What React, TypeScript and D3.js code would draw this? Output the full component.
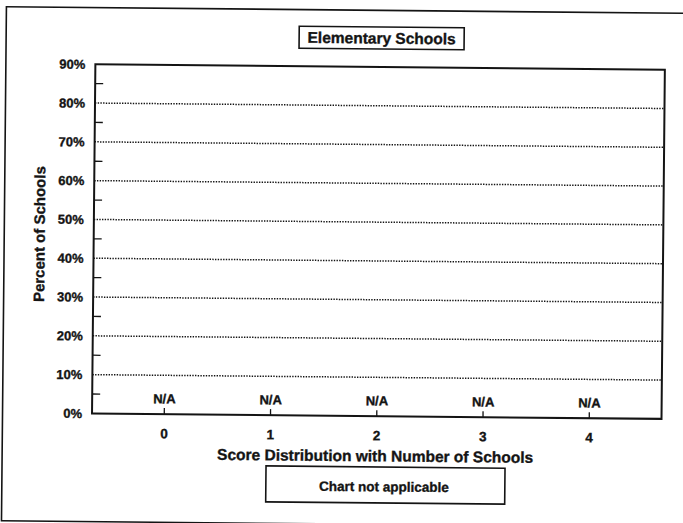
import React from 'react';
import * as d3 from 'd3';

const categories = ['0', '1', '2', '3', '4'];
const values: (number | null)[] = [null, null, null, null, null];
const yTicks = [0, 10, 20, 30, 40, 50, 60, 70, 80, 90];
const minorTicks = [5, 15, 25, 35, 45, 55, 65, 75, 85];
const gridLines = [10, 20, 30, 40, 50, 60, 70, 80];

const title = 'Elementary Schools';
const xTitle = 'Score Distribution with Number of Schools';
const yTitle = 'Percent of Schools';
const note = 'Chart not applicable';

const App: React.FC = () => {
  const width = 683;
  const height = 523;
  const plot = { left: 93.5, right: 663, top: 66.6, bottom: 415.8 };
  const font = '"Liberation Sans", Arial, Helvetica, sans-serif';
  const ink = '#141414';

  const x = d3.scalePoint<string>().domain(categories).range([plot.left, plot.right]).padding(0.68);
  const y = d3.scaleLinear().domain([0, 90]).range([plot.bottom, plot.top]);

  // scanned text looks heavier than plain bold
  const textStyle = { stroke: ink, strokeWidth: 0.35 };

  return (
    <svg
      width={width}
      height={height}
      viewBox={`0 0 ${width} ${height}`}
      style={{ position: 'absolute', left: 0, top: 0, background: '#fff' }}
    >
      <rect x={0} y={0} width={width} height={height} fill="#fff" />
      <g transform="rotate(0.55, 341, 261)" fontFamily={font} fontWeight="bold" fill={ink}>
        {/* page frame */}
        <rect x={4} y={10} width={700} height={514} fill="none" stroke={ink} strokeWidth={1.6} />

        {/* title box */}
        <rect x={297} y={26.6} width={165} height={22} fill="none" stroke={ink} strokeWidth={1.6} />
        <text x={379.5} y={43.2} textAnchor="middle" fontSize={15.5} style={textStyle}>{title}</text>

        {/* grid */}
        {gridLines.map(t => (
          <line key={`g-${t}`} x1={plot.left} x2={plot.right} y1={y(t)} y2={y(t)}
            stroke={ink} strokeWidth={1.5} strokeDasharray="1.4 1.3" />
        ))}

        {/* minor ticks */}
        {minorTicks.map(t => (
          <line key={`m-${t}`} x1={plot.left} x2={plot.left + 8} y1={y(t)} y2={y(t)} stroke={ink} strokeWidth={1.3} />
        ))}

        {/* plot border */}
        <rect x={plot.left} y={plot.top} width={plot.right - plot.left} height={plot.bottom - plot.top}
          fill="none" stroke={ink} strokeWidth={2} />

        {/* y labels */}
        {yTicks.map(t => (
          <text key={`y-${t}`} x={83.5} y={y(t) + 4.7} textAnchor="end" fontSize={13} style={textStyle}>{`${t}%`}</text>
        ))}

        {/* x ticks, labels and N/A markers */}
        {categories.map((c, i) => (
          <g key={`x-${c}`}>
            <line x1={x(c)!} x2={x(c)!} y1={plot.bottom} y2={plot.bottom - 6} stroke={ink} strokeWidth={1.3} />
            <text x={x(c)!} y={440} textAnchor="middle" fontSize={13.5} style={textStyle}>{c}</text>
            {values[i] === null && (
              <text x={x(c)!} y={405} textAnchor="middle" fontSize={13} style={textStyle}>N/A</text>
            )}
          </g>
        ))}

        {/* axis titles */}
        <text x={377} y={461} textAnchor="middle" fontSize={15.5} style={textStyle}>{xTitle}</text>
        <text transform="translate(44.5, 237) rotate(-90)" textAnchor="middle" fontSize={15} style={textStyle}>{yTitle}</text>

        {/* note box */}
        <rect x={268} y={466.6} width={239} height={36} fill="none" stroke={ink} strokeWidth={1.6} />
        <text x={386} y={491} textAnchor="middle" fontSize={13.5} style={textStyle}>{note}</text>
      </g>
    </svg>
  );
};

export default App;
